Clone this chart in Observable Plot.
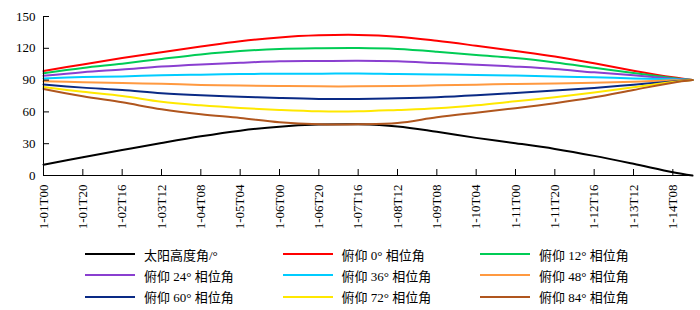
<!DOCTYPE html>
<html>
<head>
<meta charset="utf-8">
<script src="https://cdn.jsdelivr.net/npm/d3@7"></script>
<script src="https://cdn.jsdelivr.net/npm/@observablehq/plot@0.6"></script>
<style>
  body { margin: 0; background: #fff; }
  #chart { width: 700px; height: 310px; position: relative; }
  .legend { position: relative; width: 700px; height: 70px;
    font-family: "Liberation Serif", "Times New Roman", "Noto Sans CJK SC", serif; font-size: 13px; color: #000; }
  .item { position: absolute; display: flex; align-items: center; height: 20px; white-space: nowrap; }
  .sw { width: 50px; height: 2px; margin-right: 9px; }
  #chart svg text { font-family: "Liberation Serif", "Times New Roman", serif; }
</style>
</head>
<body>
<div id="chart"></div>
<script>
// time axis (hours since 1-01T00)
const hours = [0, 20, 40, 60, 80, 100, 120, 140, 160, 180, 200, 220, 240, 260, 280, 300, 320, 330];

// series values (degrees)
const sunAltitude = [10.2, 17.2, 24, 30.7, 37, 42.3, 46.1, 48, 48.3, 46.3, 41.2, 35.5, 30.5, 25.1, 18.5, 11, 3.1, 0];
const pitch0  = [98.5, 104.8, 110.8, 116.3, 121.6, 126.6, 130.3, 132.2, 132.6, 131, 127.1, 122.4, 117.5, 112.3, 105.8, 98.9, 92.6, 90];
const pitch12 = [96.5, 101.5, 105.5, 110, 114.2, 117.4, 119.3, 120, 120.2, 119.3, 116.8, 113.6, 110.8, 106.7, 101.7, 96.7, 92, 90];
const pitch24 = [94, 97.5, 100, 102.8, 104.8, 106.4, 107.7, 108, 108.3, 107.7, 106.1, 104.5, 102.7, 100.5, 97.3, 94.5, 91.3, 90];
const pitch36 = [91.6, 92.9, 93.5, 94.5, 95.1, 95.7, 96, 96, 96.3, 95.7, 95.4, 94.8, 94.3, 93.5, 92.6, 91.6, 90.7, 90];
const pitch48 = [88.8, 88, 87.2, 86.5, 85.4, 84.8, 84.4, 84.1, 84.1, 84.4, 85.1, 85.7, 86.4, 86.9, 87.6, 88.5, 89.8, 90];
const pitch60 = [85.8, 82.9, 80.6, 77.5, 75.6, 74.4, 73.1, 72.2, 72.2, 72.8, 73.8, 75.6, 77.9, 80.1, 82.6, 85.7, 88.8, 90];
const pitch72 = [83.4, 78.9, 75, 69.5, 66.2, 63.7, 61.8, 60.5, 60.5, 61.8, 63.4, 66.2, 70, 73.8, 78.2, 83.2, 88.2, 90];
const pitch84 = [81.7, 74.7, 69, 62.5, 57.8, 54.3, 50.2, 48.3, 48.3, 49.5, 54.9, 59.3, 63.5, 68.2, 73.8, 80.7, 87.6, 90];

const seriesNames = ["太阳高度角/°", "俯仰 0° 相位角", "俯仰 12° 相位角", "俯仰 24° 相位角", "俯仰 36° 相位角",
  "俯仰 48° 相位角", "俯仰 60° 相位角", "俯仰 72° 相位角", "俯仰 84° 相位角"];
const seriesValues = [sunAltitude, pitch0, pitch12, pitch24, pitch36, pitch48, pitch60, pitch72, pitch84];
const seriesColors = ["#000000", "#ff0000", "#00cc55", "#8a3fd0", "#00ccff", "#ff9940", "#0a2a85", "#ffe800", "#b0561e"];

// tick labels
const xTickHours = [0, 20, 40, 60, 80, 100, 120, 140, 160, 180, 200, 220, 240, 260, 280, 300, 320];
const xTickLabels = ["1-01T00", "1-01T20", "1-02T16", "1-03T12", "1-04T08", "1-05T04", "1-06T00", "1-06T20",
  "1-07T16", "1-08T12", "1-09T08", "1-10T04", "1-11T00", "1-11T20", "1-12T16", "1-13T12", "1-14T08"];
const yTicks = [0, 30, 60, 90, 120, 150];

const rows = [];
seriesNames.forEach((name, s) => {
  hours.forEach((h, i) => rows.push({series: name, hour: h, value: seriesValues[s][i]}));
});

const W = 700, H = 240;
const chart = Plot.plot({
  width: W, height: H,
  marginLeft: 43, marginRight: 8, marginTop: 16, marginBottom: 65,
  style: {fontFamily: "'Liberation Serif', 'Times New Roman', serif", fontSize: "13px", background: "#fff", color: "#000"},
  x: {domain: [0, 330]},
  y: {domain: [0, 150]},
  color: {domain: seriesNames, range: seriesColors},
  marks: [
    Plot.line(rows, {x: "hour", y: "value", stroke: "series", strokeWidth: 2, curve: "catmull-rom"}),
    Plot.ruleX([0], {stroke: "#000", strokeWidth: 1}),
    Plot.ruleY([0], {stroke: "#000", strokeWidth: 1}),
    Plot.ruleX(xTickHours, {x: d => d, y1: 0, y2: 0, insetBottom: 6, stroke: "#000"}),
    Plot.ruleY(yTicks, {y: d => d, x1: 0, x2: 0, insetLeft: 6, stroke: "#000"}),
    Plot.axisX({ticks: xTickHours, tickFormat: d => xTickLabels[xTickHours.indexOf(d)], tickRotate: -90,
      tickSize: 0, tickPadding: 9, label: null, fontSize: 13}),
    Plot.axisY({ticks: yTicks, tickSize: 0, tickPadding: 8, label: null, fontSize: 13})
  ]
});
document.getElementById("chart").appendChild(chart);

// legend below the svg
const legend = document.createElement("div");
legend.className = "legend";
seriesNames.forEach((name, s) => {
  const col = s % 3, row = Math.floor(s / 3);
  const item = document.createElement("div");
  item.className = "item";
  item.style.left = (85 + col * 197.5) + "px";
  item.style.top = (4 + row * 21.3) + "px";
  const sw = document.createElement("span");
  sw.className = "sw";
  sw.style.background = seriesColors[s];
  const tx = document.createElement("span");
  tx.textContent = name;
  item.appendChild(sw); item.appendChild(tx);
  legend.appendChild(item);
});
document.getElementById("chart").appendChild(legend);
</script>
</body>
</html>
